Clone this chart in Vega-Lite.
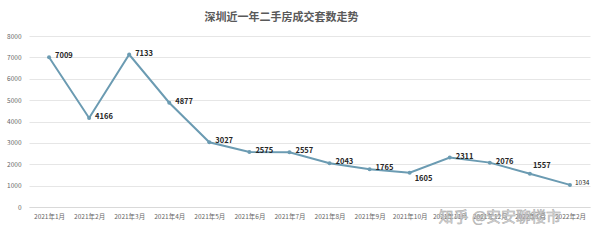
{
  "$schema": "https://vega.github.io/schema/vega-lite/v6.json",
  "width": 600,
  "height": 240,
  "autosize": {"type": "fit", "contains": "padding"},
  "padding": {"left": 6, "right": 10, "top": 12, "bottom": 10},
  "background": "white",
  "title": {
    "text": "深圳近一年二手房成交套数走势",
    "fontSize": 11,
    "fontWeight": "bold",
    "color": "#595959",
    "font": "Noto Sans CJK SC",
    "offset": 10,
    "anchor": "middle",
    "dx": -28
  },
  "config": {
    "view": {"stroke": null},
    "font": "Noto Sans CJK SC"
  },
  "data": {
    "values": [
      {"month": "2021年1月", "value": 7009},
      {"month": "2021年2月", "value": 4166},
      {"month": "2021年3月", "value": 7133},
      {"month": "2021年4月", "value": 4877},
      {"month": "2021年5月", "value": 3027},
      {"month": "2021年6月", "value": 2575},
      {"month": "2021年7月", "value": 2557},
      {"month": "2021年8月", "value": 2043},
      {"month": "2021年9月", "value": 1765},
      {"month": "2021年10月", "value": 1605},
      {"month": "2021年11月", "value": 2311},
      {"month": "2021年12月", "value": 2076},
      {"month": "2022年1月", "value": 1557},
      {"month": "2022年2月", "value": 1034}
    ]
  },
  "encoding": {
    "x": {
      "field": "month",
      "type": "ordinal",
      "sort": null,
      "scale": {"type": "point", "padding": 0.5},
      "axis": {
        "title": null,
        "labelAngle": 0,
        "labelFontSize": 6.5,
        "labelColor": "#666666",
        "labelPadding": 6,
        "ticks": false,
        "domain": true,
        "domainColor": "#d9d9d9",
        "grid": false
      }
    },
    "y": {
      "field": "value",
      "type": "quantitative",
      "scale": {"domain": [0, 8000], "nice": false},
      "axis": {
        "title": null,
        "format": "d",
        "values": [0, 1000, 2000, 3000, 4000, 5000, 6000, 7000, 8000],
        "labelFontSize": 6.5,
        "labelColor": "#666666",
        "labelPadding": 8,
        "ticks": false,
        "domain": false,
        "gridColor": "#e6e6e6",
        "gridWidth": 1
      }
    }
  },
  "layer": [
    {
      "mark": {"type": "line", "color": "#6b9bb2", "strokeWidth": 2}
    },
    {
      "mark": {"type": "point", "filled": true, "color": "#6b9bb2", "size": 16, "opacity": 1}
    },
    {
      "transform": [{"filter": "datum.month != '2021年10月' && datum.month != '2022年1月' && datum.month != '2022年2月'"}],
      "mark": {"type": "text", "align": "left", "baseline": "middle", "dx": 6, "dy": -1, "fontSize": 7.5, "fontWeight": "bold", "color": "#262626"},
      "encoding": {"text": {"field": "value", "type": "quantitative"}}
    },
    {
      "transform": [{"filter": "datum.month == '2021年10月'"}],
      "mark": {"type": "text", "align": "left", "baseline": "middle", "dx": 5, "dy": 6, "fontSize": 7.5, "fontWeight": "bold", "color": "#262626"},
      "encoding": {"text": {"field": "value", "type": "quantitative"}}
    },
    {
      "transform": [{"filter": "datum.month == '2022年1月'"}],
      "mark": {"type": "text", "align": "left", "baseline": "middle", "dx": 3, "dy": -8, "fontSize": 7.5, "fontWeight": "bold", "color": "#262626"},
      "encoding": {"text": {"field": "value", "type": "quantitative"}}
    },
    {
      "transform": [{"filter": "datum.month == '2022年2月'"}],
      "mark": {"type": "text", "align": "left", "baseline": "middle", "dx": 5, "dy": -2, "fontSize": 6.5, "color": "#262626"},
      "encoding": {"text": {"field": "value", "type": "quantitative"}}
    },
    {
      "transform": [{"filter": "datum.month == '2021年12月'"}],
      "mark": {"type": "text", "align": "center", "baseline": "middle", "fontSize": 15, "color": "#d0d0d0", "opacity": 0.9, "stroke": "#9a9a9a", "strokeWidth": 0.4, "dx": 10},
      "encoding": {
        "text": {"value": "知乎 @安安聊楼市"},
        "y": {"datum": -480}
      }
    }
  ]
}
